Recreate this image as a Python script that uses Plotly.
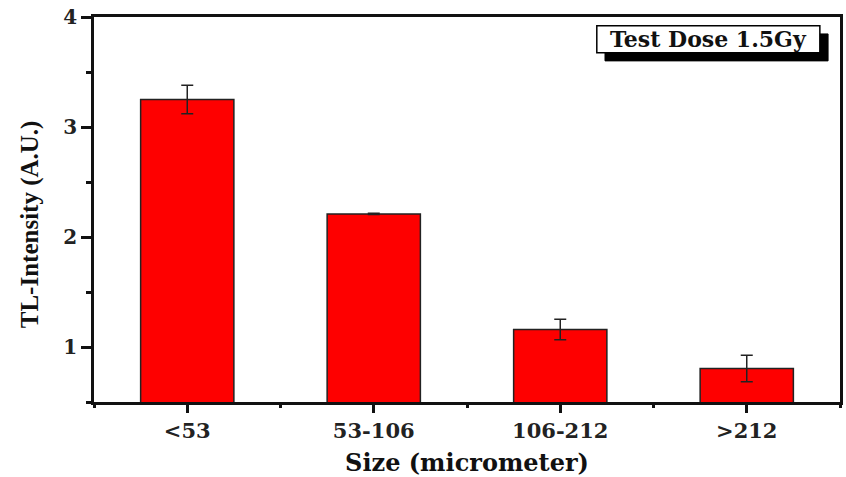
import plotly.graph_objects as go

categories = ["<53", "53-106", "106-212", ">212"]
tl_intensity = [3.25, 2.21, 1.16, 0.805]
tl_error = [0.13, 0.005, 0.093, 0.12]
y_tick_values = [1, 2, 3, 4]
y_tick_labels = ["1", "2", "3", "4"]
box_label = "Test Dose 1.5Gy"
x_title = "Size (micrometer)"
y_title = "TL-Intensity (A.U.)"

positions = list(range(len(categories)))
BOLD_FONT = "DejaVu Serif"

fig = go.Figure()
fig.add_trace(go.Bar(
    x=positions,
    y=tl_intensity,
    width=0.5,
    marker=dict(color="#FE0000", line=dict(color="#222222", width=1.5)),
    error_y=dict(type="data", array=tl_error, visible=True,
                 color="#222222", thickness=1.5, width=6),
    showlegend=False,
))

fig.update_layout(
    width=846, height=477,
    margin=dict(l=94, r=3, t=17, b=73),
    paper_bgcolor="white", plot_bgcolor="white",
    font=dict(family=BOLD_FONT, color="#111111"),
    xaxis=dict(
        range=[-0.5, len(categories) - 0.5],
        tickmode="array", tickvals=positions, ticktext=categories,
        ticks="outside", ticklen=8, tickwidth=3, tickcolor="#111111",
        tickfont=dict(family=BOLD_FONT, size=21, color="#222222", weight="bold"),
        showline=True, linewidth=2.5, linecolor="#111111", mirror=True,
        showgrid=False, zeroline=False,
        minor=dict(tickmode="array",
                   tickvals=[p + 0.5 for p in [-1] + positions],
                   ticks="outside", ticklen=3, tickwidth=3, tickcolor="#111111"),
        title=dict(text=x_title, standoff=14,
                   font=dict(family=BOLD_FONT, size=24, color="#111111", weight="bold")),
    ),
    yaxis=dict(
        range=[0.5, 4.0],
        tickmode="array", tickvals=y_tick_values, ticktext=y_tick_labels,
        ticks="outside", ticklen=10, tickwidth=3, tickcolor="#111111",
        tickfont=dict(family=BOLD_FONT, size=20, color="#222222", weight="bold"),
        showline=True, linewidth=2.5, linecolor="#111111", mirror=True,
        showgrid=False, zeroline=False,
        minor=dict(dtick=0.5, tick0=0, ticks="outside", ticklen=5,
                   tickwidth=3, tickcolor="#111111"),
    ),
    shapes=[
        dict(type="rect", xref="paper", yref="paper",
             x0=0.685, x1=0.984, y0=0.886, y1=0.956,
             fillcolor="black", line=dict(color="black", width=1)),
        dict(type="rect", xref="paper", yref="paper",
             x0=0.674, x1=0.973, y0=0.907, y1=0.977,
             fillcolor="white", line=dict(color="black", width=1.5)),
    ],
    annotations=[
        dict(text=box_label, xref="paper", yref="paper", x=0.8235, y=0.942,
             xanchor="center", yanchor="middle", showarrow=False,
             font=dict(family=BOLD_FONT, size=22, color="#111111", weight="bold")),
        dict(text=y_title, xref="paper", yref="paper", x=-0.0854, y=0.4625,
             xanchor="center", yanchor="middle", textangle=-90, showarrow=False,
             font=dict(family="Liberation Serif", size=25, color="#111111", weight="bold")),
    ],
)

fig.write_html(
    "out.html",
    config={"displayModeBar": False},
    post_script="document.body.style.margin='0';document.body.style.overflow='hidden';",
)
